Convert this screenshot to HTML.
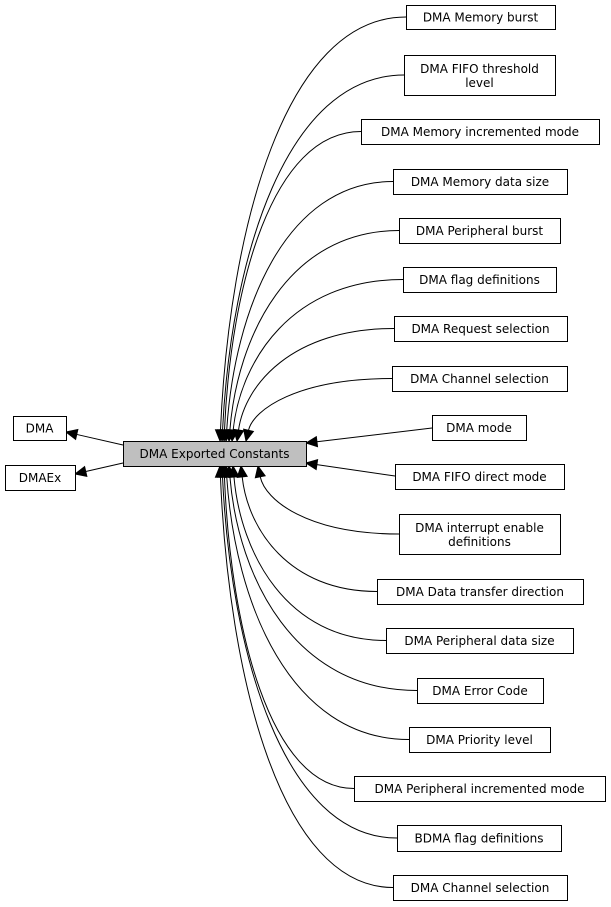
<!DOCTYPE html>
<html><head><meta charset="utf-8"><style>
html,body{margin:0;padding:0;background:#fff;width:611px;height:907px;overflow:hidden}
svg text{font-family:"DejaVu Sans","Liberation Sans",sans-serif;font-size:12px;fill:#000}
</style></head><body>
<svg id="s" width="611" height="907" xmlns="http://www.w3.org/2000/svg"></svg>
<script>
(function(){
var s=document.getElementById('s');var out='';
function box(x1,y1,x2,y2,lines,fill){
 out+='<rect x="'+(x1+.5)+'" y="'+(y1+.5)+'" width="'+(x2-x1)+'" height="'+(y2-y1)+'" fill="'+(fill||'#fff')+'" stroke="#000" stroke-width="1"/>';
 var cx=(x1+x2)/2,cy=(y1+y2)/2;
 if(lines.length==1) out+='<text x="'+cx+'" y="'+(cy+4.5)+'" text-anchor="middle">'+lines[0]+'</text>';
 else {out+='<text x="'+cx+'" y="'+(cy-2)+'" text-anchor="middle">'+lines[0]+'</text><text x="'+cx+'" y="'+(cy+12)+'" text-anchor="middle">'+lines[1]+'</text>';}
}
function arrow(tx,ty,dx,dy){var l=Math.hypot(dx,dy);dx/=l;dy/=l;var L=11,W=5;
 var bx=tx-dx*L,by=ty-dy*L;
 out+='<polygon points="'+tx+','+ty+' '+(bx-dy*W)+','+(by+dx*W)+' '+(bx+dy*W)+','+(by-dx*W)+'" fill="#000" stroke="#000"/>';
 return [bx,by];}
function curve(L,cy,tx,ty){
 var c1x=tx+(L-tx)*0.35,c1y=cy,c2x=tx+(L-tx)*0.05,c2y=cy+(ty-cy)*0.5;
 var b=arrow(tx,ty,tx-c2x,ty-c2y);
 out+='<path d="M'+L+','+cy+' C'+c1x+','+c1y+' '+c2x+','+c2y+' '+b[0]+','+b[1]+'" fill="none" stroke="#000"/>';}
function line(x1,y1,x2,y2){var b=arrow(x2,y2,x2-x1,y2-y1);out+='<line x1="'+x1+'" y1="'+y1+'" x2="'+b[0]+'" y2="'+b[1]+'" stroke="#000"/>';}
var topB=[[406,5,555,29,['DMA Memory burst'],220],[404,55,555,95,['DMA FIFO threshold','level'],222],[361,119,599,144,['DMA Memory incremented mode'],224],[393,169,567,194,['DMA Memory data size'],226],[399,218,560,243,['DMA Peripheral burst'],229],[403,267,556,292,['DMA flag definitions'],232],[394,316,567,341,['DMA Request selection'],237],[392,366,567,391,['DMA Channel selection'],246]];
var botB=[[399,514,560,554,['DMA interrupt enable','definitions'],258],[377,579,583,604,['DMA Data transfer direction'],241],[386,628,573,653,['DMA Peripheral data size'],233],[417,678,543,703,['DMA Error Code'],229],[409,727,550,752,['DMA Priority level'],226],[354,776,605,801,['DMA Peripheral incremented mode'],224],[397,825,561,851,['BDMA flag definitions'],222],[393,875,567,900,['DMA Channel selection'],220]];
topB.forEach(function(b){curve(b[0],(b[1]+b[3])/2,b[5],441);});
botB.forEach(function(b){curve(b[0],(b[1]+b[3])/2,b[5],466);});
line(123,445,66,432);line(123,463,75,474);line(432,428,306,443);line(395,476,306,463);
topB.concat(botB).forEach(function(b){box(b[0],b[1],b[2],b[3],b[4]);});
box(432,415,526,440,['DMA mode']);box(395,464,564,489,['DMA FIFO direct mode']);
box(13,416,66,440,['DMA']);box(5,465,75,490,['DMAEx']);
box(123,441,306,466,['DMA Exported Constants'],'#bfbfbf');
s.innerHTML=out;
})();
</script>
</body></html>
